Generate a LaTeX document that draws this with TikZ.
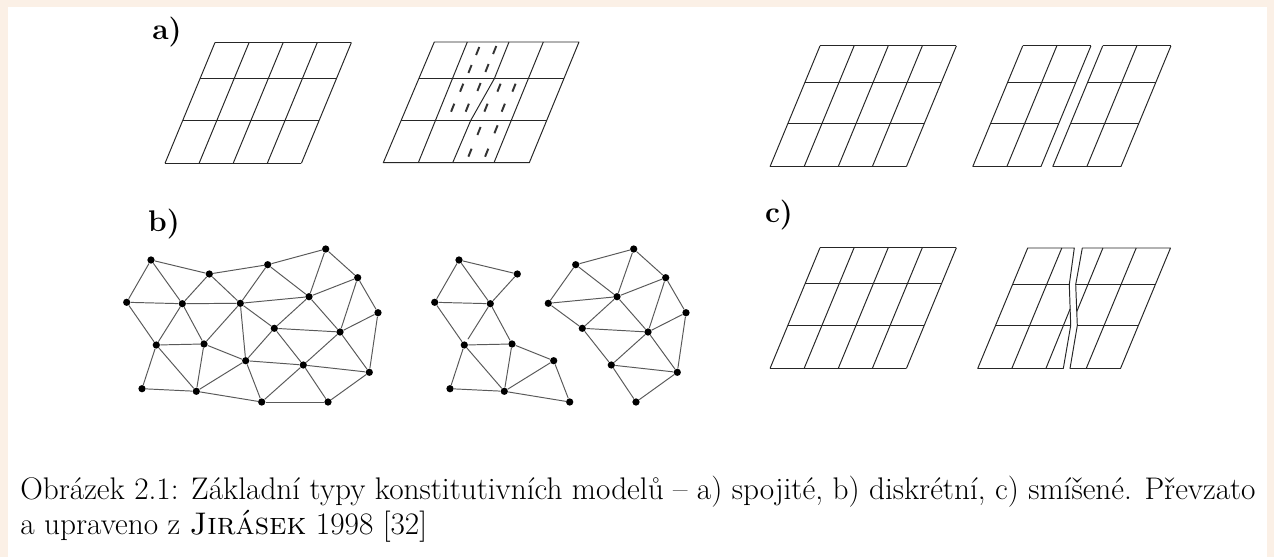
\documentclass[tikz,border=0pt]{standalone}
\usepackage{fontspec}
\usetikzlibrary{calc}

\definecolor{bezova}{RGB}{251,240,230}

% mrizka: levy dolni roh (x,y), pocet sloupcu
\newcommand{\mrizka}[3]{%
  \begin{scope}[shift={(#1,#2)}]
    \foreach \v in {0,43.2,84.6,120.8}
      \draw[cara] (0.414*\v,-\v) -- ++(34.1*#3,0);
    \foreach \c in {0,...,#3}
      \draw[cara] (34.1*\c,0) -- ++(50,-120.8);
  \end{scope}}

\begin{document}
\begin{tikzpicture}[
    x=0.02cm, y=-0.02cm,
    cara/.style={black!85, line width=0.55pt, line join=round},
    hrana/.style={black!65, line width=0.55pt},
    uzel/.style={circle, fill=black, inner sep=0pt, minimum size=0.145cm},
    carka/.style={black!80, line width=1.1pt},
    popis/.style={font=\fontsize{17}{17}\selectfont\bfseries, inner sep=0pt},
    titulek/.style={font=\fontsize{17.8}{22}\selectfont, inner sep=0pt, anchor=base west},
  ]

  % --- pozadi ---------------------------------------------------------
  \fill[bezova] (0,0) rectangle (1274,557);
  \fill[white] (8,7) rectangle (1267,557);
  \useasboundingbox (0,0) rectangle (1274,557);

  % --- popisky ---------------------------------------------------------
  \node[popis] (la) at (167,32) {a)};
  \node[popis] (lb) at (164,224) {b)};
  \node[popis] (lc) at (779,215) {c)};

  % --- a) spojity model ------------------------------------------------
  \mrizka{165}{163.3}{4}

  % --- a) lokalizace v pasu --------------------------------------------
  \draw[cara] (383.3,162.7) -- (529.3,162.7) -- (579,42) -- (434.3,42) -- cycle;
  \draw[cara] (418.8,78.7) -- (563.9,78.7);
  \draw[cara] (400.9,120.5) -- (546.5,120.5);
  \draw[cara] (467.3,42) -- (418.3,162.7);
  \draw[cara] (509,42) -- (494.3,78.7) -- (470.7,120.5) -- (452.7,162.7);
  \draw[cara] (543.3,42) -- (494,162.7);
  \foreach \x/\y in {477.7/51, 494.7/50, 470/69, 487/68,
                     461.7/87.7, 479/87, 499/87.7, 514/87.7,
                     452.7/107.7, 467.3/107.7, 486/107.7, 503.3/107.7,
                     479/131, 496/129.3, 470/152.7, 486.7/152.7}
    \draw[carka] (\x+1.6,\y-4) -- (\x-1.6,\y+4);

  % --- vpravo nahore ---------------------------------------------------
  \mrizka{770}{166.7}{4}
  \mrizka{972.7}{166.7}{2}
  \mrizka{1052.7}{166.7}{2}

  % --- c) smiseny model ------------------------------------------------
  \mrizka{770}{368.5}{4}

  % leva cast u trhliny
  \draw[cara] (1063.3,368.5) -- (977.7,368.5) -- (1027.7,248) -- (1074.3,248)
    -- (1069.3,284.5) -- (1070.7,325.5) -- cycle;
  \draw[cara] (1012.6,284.5) -- (1069.3,284.5);
  \draw[cara] (995.5,325.5) -- (1070.7,325.5);
  \draw[cara] (1011.8,368.5) -- (1061.8,248);
  \draw[cara] (1045.9,368.5) -- (1070.1,309);
  % prava cast u trhliny
  \draw[cara] (1070,368.5) -- (1120.5,368.5) -- (1170.5,248) -- (1082.3,248)
    -- (1075.7,284.5) -- (1077.3,325.5) -- cycle;
  \draw[cara] (1075.7,284.5) -- (1155.6,284.5);
  \draw[cara] (1077.3,325.5) -- (1138.5,325.5);
  \draw[cara] (1102.9,248) -- (1076.8,311.5);
  \draw[cara] (1136.2,248) -- (1086.2,368.5);

  % --- b) diskretni model ----------------------------------------------
  \foreach \n/\x/\y in {1/151/260, 2/209.3/274, 3/267.7/264.7, 4/325.7/249,
      5/357.7/277.7, 6/378/312.7, 7/126.7/302.3, 8/182.3/303.7,
      9/240.3/303.3, 10/309/296.7, 11/274.3/328.3, 12/340/332,
      13/156.3/345, 14/204/344, 15/245.7/360.7, 16/303.3/365,
      17/369.3/372.3, 18/142/388.7, 19/196.3/391.3, 20/261.7/402, 21/328/402}
    \node[uzel] (d\n) at (\x,\y) {};
  \foreach \n in {1,...,21}
    \node[uzel] (s\n) at ($(d\n)+(308,0)$) {};

  \foreach \a/\b in {1/2, 2/3, 3/4, 4/5, 5/6, 1/7, 1/8, 2/8, 2/9, 3/9,
      3/10, 4/10, 5/10, 5/12, 6/12, 6/17, 7/8, 7/13, 8/9, 8/13, 8/14,
      9/10, 9/11, 9/14, 9/15, 10/11, 10/12, 11/12, 11/15, 11/16, 12/16,
      12/17, 13/14, 13/18, 13/19, 14/15, 14/19, 15/16, 15/19, 15/20,
      16/17, 16/20, 16/21, 17/21, 18/19, 19/20, 20/21}
    \draw[hrana] (d\a) -- (d\b);

  % rozpojena sit
  \foreach \a/\b in {1/2, 1/7, 1/8, 2/8, 7/8, 7/13, 8/14, 13/14, 13/18,
      13/19, 14/19, 14/15, 15/19, 15/20, 18/19, 19/20,
      3/4, 3/9, 3/10, 4/10, 4/5, 5/10, 5/6, 5/12, 6/12, 6/17, 9/10,
      9/11, 10/11, 10/12, 11/12, 11/16, 12/16, 12/17, 16/17, 16/21, 17/21}
    \draw[hrana] (s\a) -- (s\b);
  \draw[hrana] (s8) -- ($(s8)!0.86!(s13)$);

  % --- titulek -----------------------------------------------------------
  \node[titulek] (cap1) at (20,499) {Obrázek 2.1: Základní typy konstitutivních modelů – a) spojité, b) diskrétní, c) smíšené. Převzato};
  \node[titulek] (cap2) at (20,534) {a upraveno z \textsc{Jirásek} 1998 [32]};

\end{tikzpicture}
\end{document}
